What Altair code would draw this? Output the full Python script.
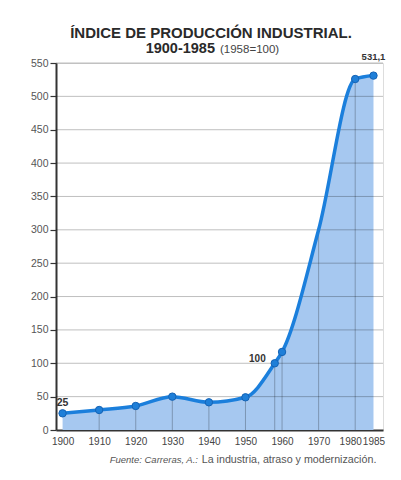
import altair as alt
import pandas as pd

# ---- data ----
years = [1900, 1910, 1920, 1930, 1940, 1950, 1958, 1960, 1970, 1980, 1985]
values = [25, 30, 36, 50, 41.5, 49, 100, 117, 300, 526, 531.1]
marker_years = [1900, 1910, 1920, 1930, 1940, 1950, 1958, 1960, 1980, 1985]
drop_years = [1910, 1920, 1930, 1940, 1950, 1958, 1960, 1970, 1980]
x_ticks = [1900, 1910, 1920, 1930, 1940, 1950, 1960, 1970, 1980, 1985]
y_ticks = [0, 50, 100, 150, 200, 250, 300, 350, 400, 450, 500, 550]
grid_values = [50, 100, 150, 200, 250, 300, 350, 400, 450, 500, 550]

title_line1 = "ÍNDICE DE PRODUCCIÓN INDUSTRIAL."
title_line2a = "1900-1985"
title_line2b = "(1958=100)"
source_a = "Fuente: Carreras, A.:"
source_b = "La industria, atraso y modernización."

FONT = "Liberation Sans"
W, H = 327, 367

df = pd.DataFrame({"year": years, "value": values})
df["marker"] = df["year"].isin(marker_years)
df["drop"] = df["year"].isin(drop_years)
grid_df = pd.DataFrame({"g": grid_values})

x_axis = alt.Axis(
    values=x_ticks, format="d", title=None, grid=False,
    labelFont=FONT, labelFontSize=10, labelColor="#444",
    tickSize=0, labelPadding=6, labelOverlap=False,
    labelOffset={"condition": {"test": "datum.value === 1980", "value": -5}, "value": 0},
    domainColor="#333", domainWidth=2,
)
y_axis = alt.Axis(
    values=y_ticks, title=None, grid=False,
    labelFont=FONT, labelFontSize=10.5, labelColor="#555", labelOverlap=False,
    tickSize=6, tickColor="#333", tickWidth=1.2, labelPadding=2,
    domainColor="#333", domainWidth=2,
)
x_scale = alt.Scale(domain=[1898.2, 1987.6], nice=False, zero=False)
y_scale = alt.Scale(domain=[0, 550], nice=False)

def X(field="year:Q"):
    return alt.X(field, scale=x_scale, axis=x_axis)

def Y(field="value:Q"):
    return alt.Y(field, scale=y_scale, axis=y_axis)

base = alt.Chart(df)

area = base.mark_area(interpolate="monotone", color="#a6c8f0", opacity=1).encode(x=X(), y=Y())

hgrid = alt.Chart(grid_df).mark_rule(color="black", opacity=0.25, strokeWidth=1).encode(y=Y("g:Q"))

vgrid = base.transform_filter("datum.drop").mark_rule(color="black", opacity=0.25, strokeWidth=1).encode(
    x=X(), y=Y(), y2=alt.datum(0)
)

line = base.mark_line(interpolate="monotone", color="#1b7fdc", strokeWidth=3.5).encode(x=X(), y=Y())

points = base.transform_filter("datum.marker").mark_point(
    filled=True, size=55, color="#1f7fd8", stroke="#1563b5", strokeWidth=1, opacity=1
).encode(x=X(), y=Y())

lab_style = dict(font=FONT, fontWeight="bold", color="#333")
lab25 = base.transform_filter("datum.year == 1900").mark_text(
    align="center", baseline="alphabetic", dy=-7, fontSize=10.5, **lab_style
).encode(x=X(), y=Y(), text=alt.value("25"))
lab100 = base.transform_filter("datum.year == 1958").mark_text(
    align="right", baseline="alphabetic", dx=-9, dy=-1, fontSize=10, **lab_style
).encode(x=X(), y=Y(), text=alt.value("100"))
lab531 = base.transform_filter("datum.year == 1985").mark_text(
    align="center", baseline="alphabetic", dy=-16, fontSize=9.5, **lab_style
).encode(x=X(), y=Y(), text=alt.value("531,1"))

def txt(s, x, y, **kw):
    return alt.Chart(pd.DataFrame({"t": [s]})).mark_text(baseline="alphabetic", font=FONT, **kw).encode(
        text="t:N", x=alt.value(x), y=alt.value(y)
    )

t1 = txt(title_line1, 155, -25, align="center", fontSize=15, fontWeight="bold", color="#2a2a2a")
t2a = txt(title_line2a, 159, -10.5, align="right", fontSize=14.5, fontWeight="bold", color="#2a2a2a")
t2b = txt(title_line2b, 164, -10.5, align="left", fontSize=11.5, color="#444")
s1 = txt(source_a, 142, 400.3, align="right", fontSize=9.5, fontStyle="italic", color="#555")
s2 = txt(source_b, 145.7, 400.3, align="left", fontSize=10.7, color="#555")

chart = alt.layer(
    area, hgrid, vgrid, line, points, lab25, lab100, lab531, t1, t2a, t2b, s1, s2
).properties(
    width=W, height=H,
    autosize=alt.AutoSizeParams(type="none"),
    padding={"left": 48, "top": 55, "right": 10, "bottom": 50},
).configure_view(stroke=None).configure(background="white").configure_axis(labelOverlap=False)

chart.save("out.html", embed_options={"renderer": "svg", "actions": False})
